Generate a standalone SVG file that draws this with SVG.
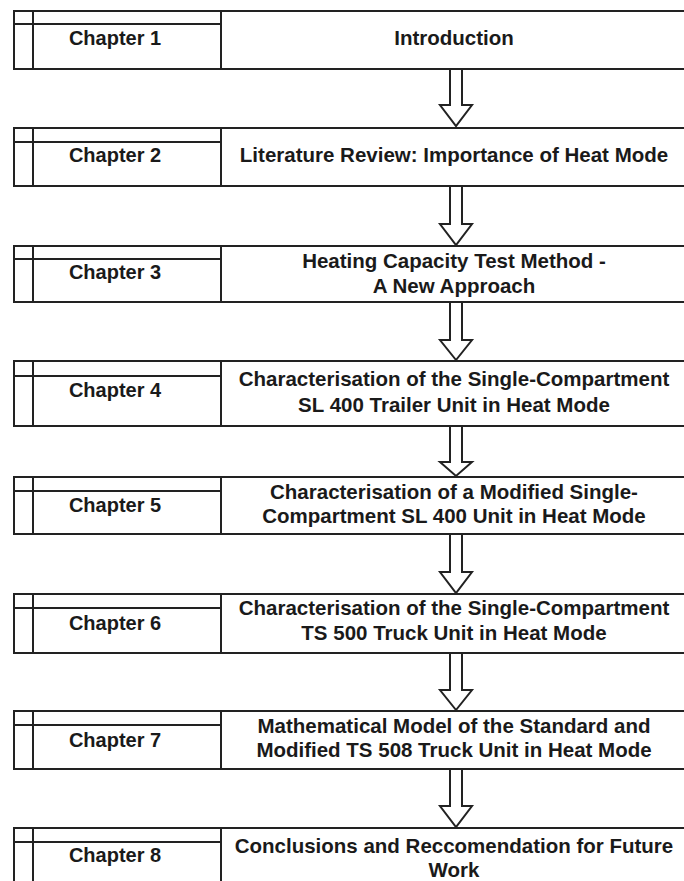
<svg xmlns="http://www.w3.org/2000/svg" width="684" height="881" viewBox="0 0 684 881">
<style>
.bx{fill:#fff;stroke:#222;stroke-width:2}
.ln{stroke:#222;stroke-width:2;fill:none}
.ch{font-family:"Liberation Sans",Arial,sans-serif;font-weight:bold;font-size:20px;fill:#1a1a1a;text-anchor:middle}
.tx{font-family:"Liberation Sans",Arial,sans-serif;font-weight:bold;font-size:20.5px;fill:#1a1a1a;text-anchor:middle}
.ar{fill:#fff;stroke:#222;stroke-width:2;stroke-linejoin:miter}
</style>
<rect width="684" height="881" fill="#fff"/>
<g id="connectors">
<path class="ar" d="M450,69 V105 H440 L456,126 L472,105 H462 V69"/>
<path class="ar" d="M450,186 V224 H440 L456,245 L472,224 H462 V186"/>
<path class="ar" d="M450,302 V340 H440 L456,360 L472,340 H462 V302"/>
<path class="ar" d="M450,426 V462 H440 L456,476 L472,462 H462 V426"/>
<path class="ar" d="M450,534 V572 H440 L456,593 L472,572 H462 V534"/>
<path class="ar" d="M450,653 V690 H440 L456,710 L472,690 H462 V653"/>
<path class="ar" d="M450,769 V806 H440 L456,827 L472,806 H462 V769"/>
</g>
<g id="chapter1">
<rect class="bx" x="14" y="11" width="680" height="58"/>
<path class="ln" d="M33,11 V69 M14,24 H221 M221,11 V69"/>
<text class="ch" x="115" y="45">Chapter 1</text>
<text class="tx" x="454" y="45">Introduction</text>
</g>
<g id="chapter2">
<rect class="bx" x="14" y="128" width="680" height="58"/>
<path class="ln" d="M33,128 V186 M14,142 H221 M221,128 V186"/>
<text class="ch" x="115" y="162">Chapter 2</text>
<text class="tx" x="454" y="162">Literature Review: Importance of Heat Mode</text>
</g>
<g id="chapter3">
<rect class="bx" x="14" y="246" width="680" height="56"/>
<path class="ln" d="M33,246 V302 M14,259 H221 M221,246 V302"/>
<text class="ch" x="115" y="279">Chapter 3</text>
<text class="tx" x="454" y="268">Heating Capacity Test Method -</text>
<text class="tx" x="454" y="293">A New Approach</text>
</g>
<g id="chapter4">
<rect class="bx" x="14" y="361" width="680" height="65"/>
<path class="ln" d="M33,361 V426 M14,376 H221 M221,361 V426"/>
<text class="ch" x="115" y="397">Chapter 4</text>
<text class="tx" x="454" y="386">Characterisation of the Single-Compartment</text>
<text class="tx" x="454" y="412">SL 400 Trailer Unit in Heat Mode</text>
</g>
<g id="chapter5">
<rect class="bx" x="14" y="477" width="680" height="57"/>
<path class="ln" d="M33,477 V534 M14,491 H221 M221,477 V534"/>
<text class="ch" x="115" y="512">Chapter 5</text>
<text class="tx" x="454" y="499">Characterisation of a Modified Single-</text>
<text class="tx" x="454" y="523">Compartment SL 400 Unit in Heat Mode</text>
</g>
<g id="chapter6">
<rect class="bx" x="14" y="594" width="680" height="59"/>
<path class="ln" d="M33,594 V653 M14,608 H221 M221,594 V653"/>
<text class="ch" x="115" y="630">Chapter 6</text>
<text class="tx" x="454" y="615">Characterisation of the Single-Compartment</text>
<text class="tx" x="454" y="640">TS 500 Truck Unit in Heat Mode</text>
</g>
<g id="chapter7">
<rect class="bx" x="14" y="711" width="680" height="58"/>
<path class="ln" d="M33,711 V769 M14,725 H221 M221,711 V769"/>
<text class="ch" x="115" y="747">Chapter 7</text>
<text class="tx" x="454" y="733">Mathematical Model of the Standard and</text>
<text class="tx" x="454" y="757">Modified TS 508 Truck Unit in Heat Mode</text>
</g>
<g id="chapter8">
<rect class="bx" x="14" y="828" width="680" height="70"/>
<path class="ln" d="M33,828 V898 M14,842 H221 M221,828 V898"/>
<text class="ch" x="115" y="862">Chapter 8</text>
<text class="tx" x="454" y="853">Conclusions and Reccomendation for Future</text>
<text class="tx" x="454" y="877">Work</text>
</g>
</svg>
